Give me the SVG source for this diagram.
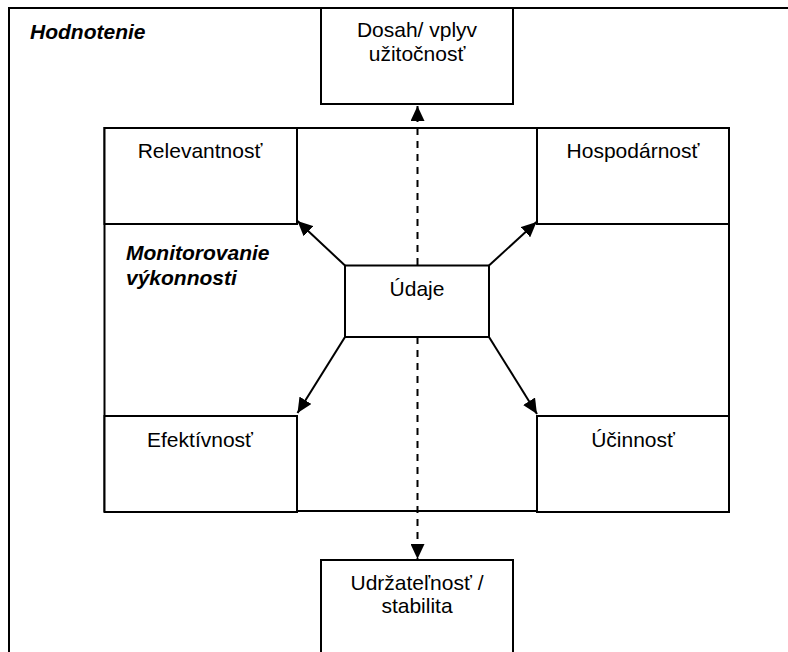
<svg xmlns="http://www.w3.org/2000/svg" width="788" height="652" viewBox="0 0 788 652">
<style>
.box{fill:#fff;stroke:#000;stroke-width:2}
.frame{fill:none;stroke:#000;stroke-width:2}
.t{font-family:"Liberation Sans",Arial,sans-serif;font-size:21px;fill:#000;text-anchor:middle}
.bi{font-family:"Liberation Sans",Arial,sans-serif;font-size:21px;font-weight:bold;font-style:italic;fill:#000}
.c{fill:none;stroke:#000;stroke-width:2}
.d{fill:none;stroke:#000;stroke-width:2;stroke-dasharray:7,6}
</style>
<defs>
<marker id="ah" markerUnits="userSpaceOnUse" markerWidth="16" markerHeight="14" refX="15" refY="7" orient="auto">
<path d="M0,0 L15,7 L0,14 z" fill="#000"/>
</marker>
</defs>
<g id="hodnotenie">
<path class="frame" d="M9,660 L9,8 L790,8"/>
<text class="bi" x="30" y="39">Hodnotenie</text>
</g>
<g id="monitorovanie">
<path class="frame" d="M104.5,128 L729,128 L729,511 L104.5,511 Z"/>
<text class="bi" x="126" y="260">Monitorovanie</text>
<text class="bi" x="126" y="285">výkonnosti</text>
</g>
<g id="dosah">
<rect class="box" x="321" y="8" width="192" height="96"/>
<text class="t" x="417" y="37">Dosah/ vplyv</text>
<text class="t" x="417" y="61">užitočnosť</text>
</g>
<g id="relevantnost">
<rect class="box" x="104.5" y="128" width="192.5" height="96"/>
<text class="t" x="200" y="158">Relevantnosť</text>
</g>
<g id="hospodarnost">
<rect class="box" x="537" y="128" width="192" height="96"/>
<text class="t" x="633" y="158">Hospodárnosť</text>
</g>
<g id="udaje">
<rect class="box" x="345" y="265.5" width="144" height="71.5"/>
<text class="t" x="417" y="296">Údaje</text>
</g>
<g id="efektivnost">
<rect class="box" x="104.5" y="416" width="192.5" height="96"/>
<text class="t" x="200" y="447">Efektívnosť</text>
</g>
<g id="ucinnost">
<rect class="box" x="537" y="416" width="192" height="96"/>
<text class="t" x="633" y="447">Účinnosť</text>
</g>
<g id="udrzatelnost">
<rect class="box" x="321" y="560" width="192" height="110"/>
<text class="t" x="417" y="590">Udržateľnosť /</text>
<text class="t" x="417" y="613">stabilita</text>
</g>
<g id="connectors">
<line class="c" x1="345" y1="265.5" x2="297.5" y2="221" marker-end="url(#ah)"/>
<line class="c" x1="489" y1="265.5" x2="536.5" y2="222" marker-end="url(#ah)"/>
<line class="c" x1="345" y1="337" x2="297.5" y2="413" marker-end="url(#ah)"/>
<line class="c" x1="489" y1="337" x2="537" y2="414" marker-end="url(#ah)"/>
<line class="d" x1="417.5" y1="265" x2="417.5" y2="106" marker-end="url(#ah)"/>
<line class="d" x1="417.5" y1="337" x2="417.5" y2="559" marker-end="url(#ah)"/>
</g>
</svg>
